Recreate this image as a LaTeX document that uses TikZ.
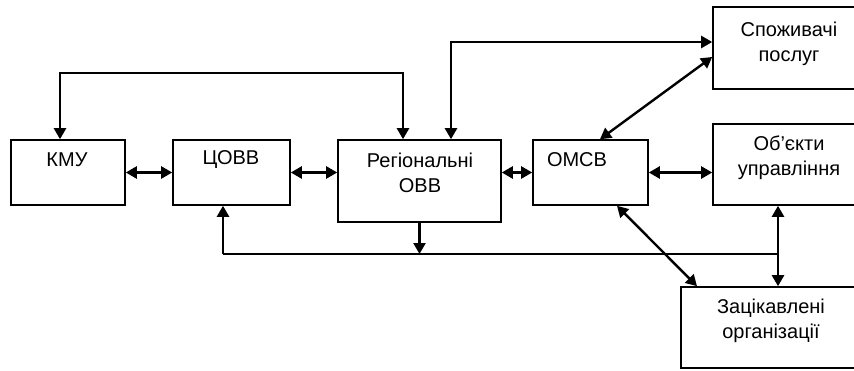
\documentclass[tikz,border=0pt]{standalone}
\usepackage{fontspec}
\setmainfont{Liberation Sans}
\usetikzlibrary{arrows.meta}

\begin{document}
\begin{tikzpicture}[x=1pt, y=-1pt,
    box/.style={draw, line width=1.6pt, inner sep=0pt},
    txt/.style={font=\fontsize{20}{25}\selectfont, align=center, inner sep=0pt},
    link/.style={line width=2.4pt, {Triangle[length=11pt,width=12pt]}-{Triangle[length=11pt,width=12pt]}},
    feed/.style={line width=2.4pt, -{Triangle[length=11pt,width=12pt]}}]
  \useasboundingbox (0,0) rectangle (854,370);
  \clip (0,0) rectangle (854,370);
  % boxes
  \node[box, minimum width=114pt, minimum height=65pt] (kmu) at (68,172.5) {};
  \node[box, minimum width=117pt, minimum height=65pt] (tsovv) at (231.5,172.5) {};
  \node[box, minimum width=163pt, minimum height=82pt] (reg) at (419.5,181) {};
  \node[box, minimum width=115pt, minimum height=65pt] (omsv) at (590.5,172.5) {};
  \node[box, minimum width=157pt, minimum height=82pt] (spozh) at (791.5,48) {};
  \node[box, minimum width=157pt, minimum height=81pt] (obj) at (791.5,164.5) {};
  \node[box, minimum width=189pt, minimum height=81pt] (zats) at (775.5,327.5) {};
  % texts
  \node[txt] (kmu-t) at (67,160) {КМУ};
  \node[txt] (tsovv-t) at (231,160) {ЦОВВ};
  \node[txt] (reg-t) at (420,173) {Регіональні\\ОВВ};
  \node[txt] (omsv-t) at (577,160) {ОМСВ};
  \node[txt] (spozh-t) at (789,44) {Споживачі\\послуг};
  \node[txt] (obj-t) at (789,158) {Об’єкти\\управління};
  \node[txt] (zats-t) at (771,321) {Зацікавлені\\організації};
  % turning points
  \coordinate (loopL) at (60,73);
  \coordinate (loopR) at (403,73);
  \coordinate (up) at (451,42);
  \coordinate (busL) at (223,254);
  \coordinate (busR) at (778,254);
  % connectors
  \draw[link] (kmu.north -| loopL) -- (loopL) -- (loopR) -- (reg.north -| loopR);
  \draw[link] (kmu.east) -- (tsovv.west);
  \draw[link] (tsovv.east) -- (tsovv.east -| reg.west);
  \draw[link] (omsv.west -| reg.east) -- (omsv.west);
  \draw[link] (omsv.east) -- (omsv.east -| obj.west);
  \draw[link] (reg.north -| up) -- (up) -- (up -| spozh.west);
  \draw[link] ([xshift=9.5pt]omsv.north) -- ([yshift=-9pt]spozh.west);
  \draw[link] ([xshift=26.5pt]omsv.south) -- ([xshift=-78.5pt]zats.north);
  \draw[link] (obj.south -| busR) -- (zats.north -| busR);
  \draw[line width=1.8pt] (busR) -- (busL);
  \draw[feed] (busL) -- (tsovv.south -| busL);
  \draw[feed] (reg.south) -- (reg.south |- busL);
\end{tikzpicture}
\end{document}
